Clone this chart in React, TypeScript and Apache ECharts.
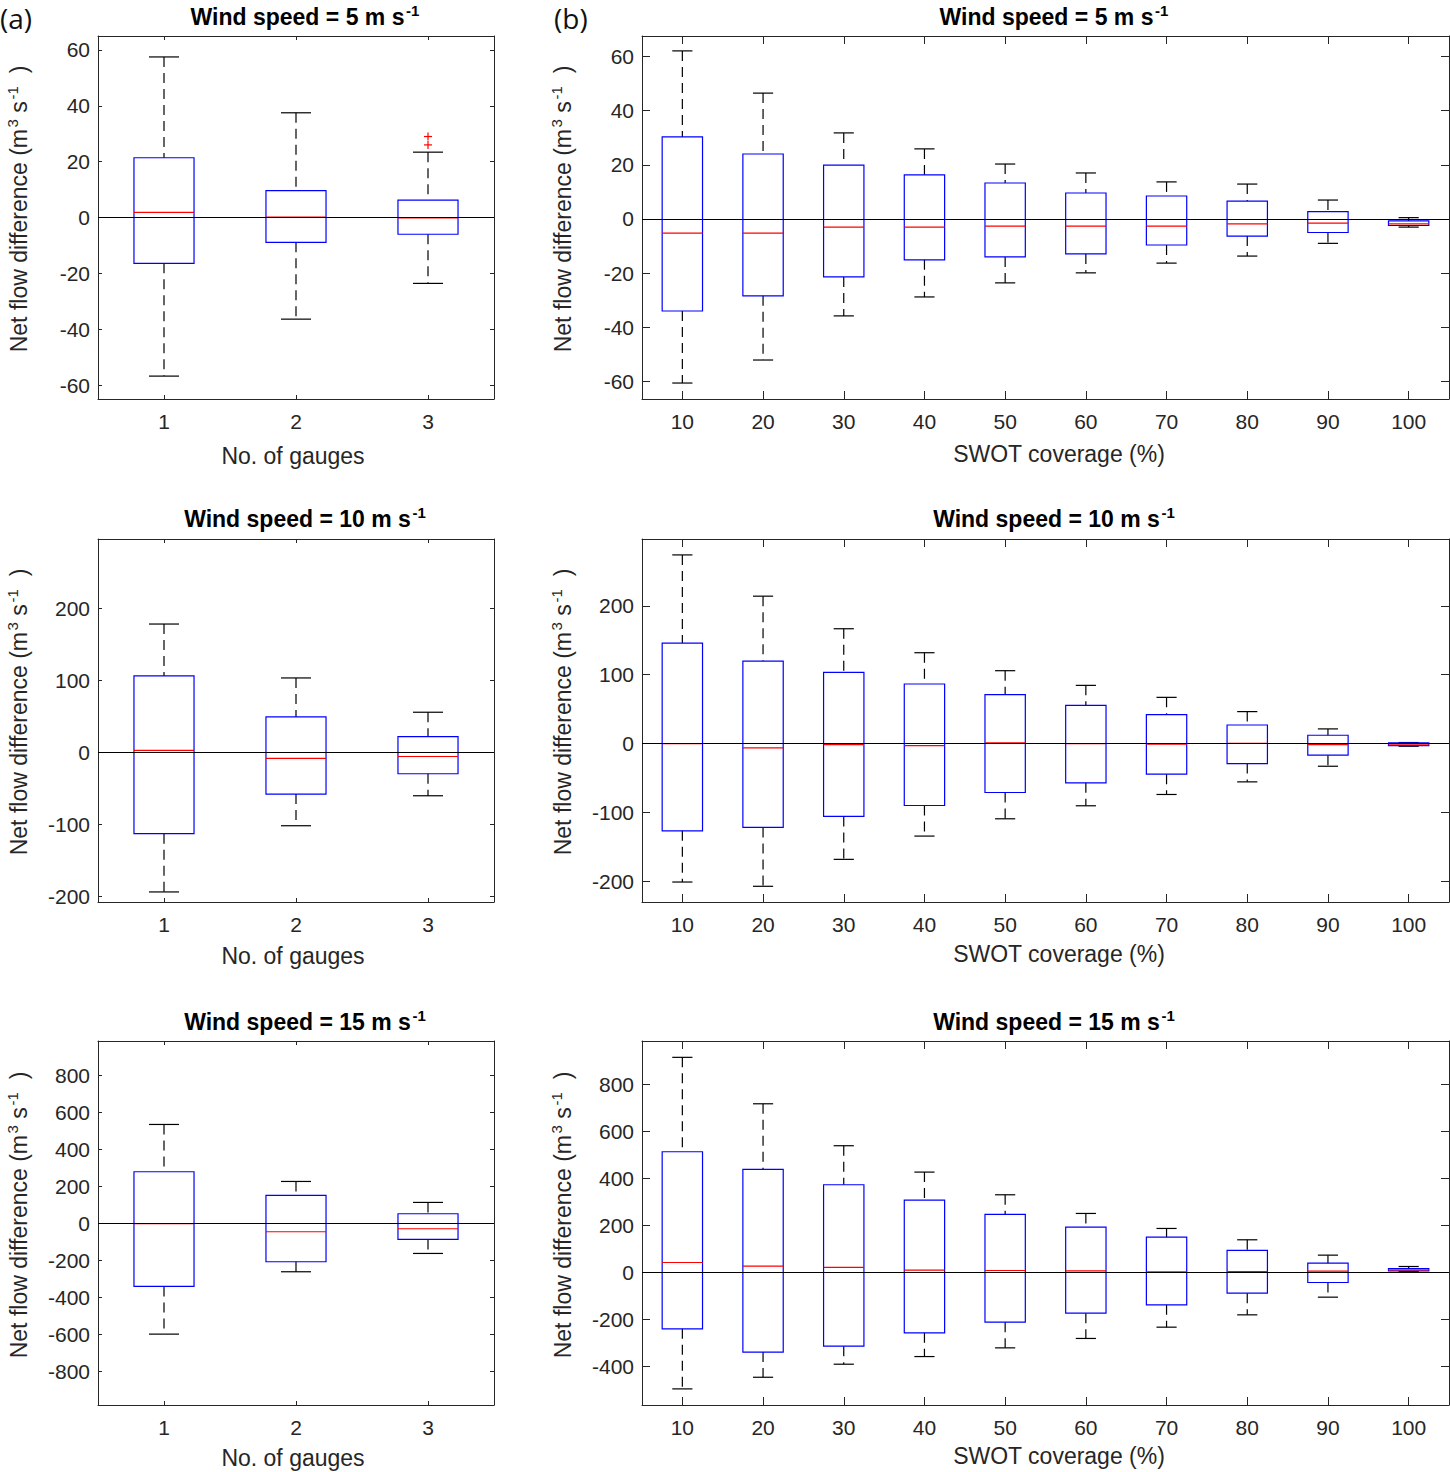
import React, { useEffect, useRef } from 'react';
import * as echarts from 'echarts';

// ---------- data ----------
const gaugeCats = ['1', '2', '3'];
const coverageCats = ['10', '20', '30', '40', '50', '60', '70', '80', '90', '100'];

// each box: [lowerWhisker, q1, median, q3, upperWhisker]
const gauges5 = [
  [-56.8, -16.4, 1.8, 21.4, 57.5],
  [-36.4, -8.9, 0.1, 9.6, 37.5],
  [-23.6, -6.0, -0.1, 6.2, 23.4],
];
const gauges5Outliers = [
  [2, 29.0],
  [2, 26.0],
];
const gauges10 = [
  [-194, -113, 2.8, 106.5, 178.7],
  [-101.9, -57.9, -8.3, 49.5, 103.7],
  [-60.2, -29.6, -5.6, 22.2, 56],
];
const gauges15 = [
  [-600, -342, -3.6, 277.5, 533],
  [-263, -209, -46.8, 149.5, 225],
  [-164, -88.3, -30.6, 50.5, 111.7],
];
const coverage5 = [
  [-60.6, -34.0, -5.2, 30.3, 62.1],
  [-52.1, -28.4, -5.2, 24.0, 46.5],
  [-35.8, -21.4, -3.0, 19.9, 31.8],
  [-28.8, -15.1, -3.0, 16.3, 25.9],
  [-23.6, -14.0, -2.6, 13.3, 20.3],
  [-19.9, -12.9, -2.6, 9.6, 17.0],
  [-16.3, -9.6, -2.6, 8.5, 13.7],
  [-13.7, -6.3, -1.8, 6.6, 12.9],
  [-9.0, -5.0, -1.5, 2.7, 7.0],
  [-3.0, -2.4, -1.8, -0.7, 0.5],
];
const coverage10 = [
  [-201, -126.6, 0, 145.9, 273.9],
  [-207.2, -121.7, -6.3, 119.8, 214],
  [-168.1, -105.8, -1.4, 103.4, 166.7],
  [-134.3, -89.9, -2.9, 86.5, 131.9],
  [-109.2, -71, 1, 71, 105.8],
  [-90.3, -57, 0, 55.6, 84.5],
  [-73.9, -44.4, -1, 42, 67.1],
  [-55.6, -29, 0.5, 27, 46.4],
  [-32.9, -16.9, -1.4, 12.1, 21.3],
  [-3.9, -2.9, -1.9, 1, 1.5],
];
const coverage15 = [
  [-496.5, -241, 41, 512, 913.5],
  [-447, -340, 25.5, 437, 716],
  [-391.5, -315, 19.9, 371.6, 537.6],
  [-359, -258, 8.5, 306, 425.5],
  [-322, -212.8, 7, 245.4, 329],
  [-282, -174.5, 5.7, 191.5, 249.6],
  [-234, -139, 1.4, 149, 185.8],
  [-181.6, -89.4, 2.8, 92.2, 137.6],
  [-106.4, -44, 4.3, 38.3, 72.3],
  [2.8, 5.7, 10, 15.6, 24],
];

const ticks5 = [-60, -40, -20, 0, 20, 40, 60];
const ticksA10 = [-200, -100, 0, 100, 200];
const ticksA15 = [-800, -600, -400, -200, 0, 200, 400, 600, 800];
const ticksB10 = [-200, -100, 0, 100, 200];
const ticksB15 = [-400, -200, 0, 200, 400, 600, 800];

const windSpeeds = ['5', '10', '15'];
const gaugeAxisName = 'No. of gauges';
const coverageAxisName = 'SWOT coverage (%)';

// ---------- layout ----------
const FONT = '"Liberation Sans", Arial, Helvetica, sans-serif';
const AX = '#262626';

const panels = [
  { cats: gaugeCats, boxes: gauges5, outliers: gauges5Outliers, yMin: -65, yMax: 65, ticks: ticks5, left: 98, top: 36, width: 396, height: 363, boxW: 0.455, tickLen: 4 },
  { cats: coverageCats, boxes: coverage5, outliers: [], yMin: -66.5, yMax: 67.6, ticks: ticks5, left: 642, top: 36, width: 807, height: 363, boxW: 0.5, tickLen: 8 },
  { cats: gaugeCats, boxes: gauges10, outliers: [], yMin: -208, yMax: 297, ticks: ticksA10, left: 98, top: 539, width: 396, height: 363, boxW: 0.455, tickLen: 4 },
  { cats: coverageCats, boxes: coverage10, outliers: [], yMin: -230, yMax: 297, ticks: ticksB10, left: 642, top: 539, width: 807, height: 363, boxW: 0.5, tickLen: 8 },
  { cats: gaugeCats, boxes: gauges15, outliers: [], yMin: -983, yMax: 984, ticks: ticksA15, left: 98, top: 1041, width: 396, height: 364, boxW: 0.455, tickLen: 4 },
  { cats: coverageCats, boxes: coverage15, outliers: [], yMin: -565, yMax: 983, ticks: ticksB15, left: 642, top: 1041, width: 807, height: 364, boxW: 0.5, tickLen: 8 },
];

function buildOption() {
  const grid: any[] = [];
  const xAxis: any[] = [];
  const yAxis: any[] = [];
  const series: any[] = [];
  const graphic: any[] = [];

  panels.forEach((p, i) => {
    grid.push({ left: p.left, top: p.top, width: p.width, height: p.height, containLabel: false, outerBoundsMode: 'none' });
    const tickBase = { show: true, inside: true, length: p.tickLen, lineStyle: { color: AX, width: 1 } };
    const lineBase = { show: true, onZero: false, lineStyle: { color: AX, width: 1 } };
    xAxis.push({
      gridIndex: i, type: 'category', data: p.cats, position: 'bottom', boundaryGap: true,
      axisLine: lineBase, axisTick: { ...tickBase, alignWithLabel: true },
      axisLabel: { fontSize: 21, color: AX, fontFamily: FONT, margin: 12 },
      splitLine: { show: false },
    });
    xAxis.push({
      gridIndex: i, type: 'category', data: p.cats, position: 'top', boundaryGap: true,
      axisLine: lineBase, axisTick: { ...tickBase, alignWithLabel: true },
      axisLabel: { show: false }, splitLine: { show: false },
    });
    yAxis.push({
      gridIndex: i, type: 'value', min: p.yMin, max: p.yMax, position: 'left',
      axisLine: lineBase, axisTick: { ...tickBase, customValues: p.ticks },
      axisLabel: { fontSize: 21, color: AX, fontFamily: FONT, margin: 8, customValues: p.ticks },
      splitLine: { show: false },
    });
    yAxis.push({
      gridIndex: i, type: 'value', min: p.yMin, max: p.yMax, position: 'right',
      axisLine: lineBase, axisTick: { ...tickBase, customValues: p.ticks },
      axisLabel: { show: false, customValues: p.ticks }, splitLine: { show: false },
    });

    // zero reference line
    series.push({
      type: 'line', xAxisIndex: 2 * i, yAxisIndex: 2 * i, data: [], z: 1, silent: true,
      markLine: {
        silent: true, symbol: ['none', 'none'], label: { show: false },
        lineStyle: { color: '#000000', type: 'solid', width: 1 },
        data: [{ yAxis: 0 }],
      },
    });

    const boxW = p.boxW;
    series.push({
      type: 'custom', xAxisIndex: 2 * i, yAxisIndex: 2 * i, z: 3, silent: true,
      data: p.boxes.map((b, j) => [j, ...b]),
      encode: { x: 0, y: [1, 2, 3, 4, 5] },
      renderItem: (params: any, api: any) => {
        const idx = api.value(0);
        const band = api.size([1, 0])[0];
        const hw = (band * boxW) / 2;
        const cx = api.coord([idx, 0])[0];
        const yLo = api.coord([idx, api.value(1)])[1];
        const yQ1 = api.coord([idx, api.value(2)])[1];
        const yMed = api.coord([idx, api.value(3)])[1];
        const yQ3 = api.coord([idx, api.value(4)])[1];
        const yHi = api.coord([idx, api.value(5)])[1];
        const dash = { stroke: '#000000', lineWidth: 1.2, lineDash: [10, 6] };
        const solid = { stroke: '#000000', lineWidth: 1.2 };
        return {
          type: 'group',
          children: [
            { type: 'line', shape: { x1: cx, y1: yHi, x2: cx, y2: yQ3 }, style: dash },
            { type: 'line', shape: { x1: cx, y1: yQ1, x2: cx, y2: yLo }, style: dash },
            { type: 'line', shape: { x1: cx - hw / 2, y1: yHi, x2: cx + hw / 2, y2: yHi }, style: solid },
            { type: 'line', shape: { x1: cx - hw / 2, y1: yLo, x2: cx + hw / 2, y2: yLo }, style: solid },
            { type: 'rect', shape: { x: cx - hw, y: yQ3, width: 2 * hw, height: yQ1 - yQ3 }, style: { fill: 'none', stroke: '#0000ff', lineWidth: 1.2 } },
            { type: 'line', shape: { x1: cx - hw, y1: yMed, x2: cx + hw, y2: yMed }, style: { stroke: '#ff0000', lineWidth: 1.2 } },
          ],
        };
      },
    });

    if (p.outliers.length) {
      series.push({
        type: 'custom', xAxisIndex: 2 * i, yAxisIndex: 2 * i, z: 4, silent: true,
        data: p.outliers,
        encode: { x: 0, y: 1 },
        renderItem: (params: any, api: any) => {
          const [x, y] = api.coord([api.value(0), api.value(1)]);
          const s = 4;
          const st = { stroke: '#ff0000', lineWidth: 1.2 };
          return {
            type: 'group',
            children: [
              { type: 'line', shape: { x1: x - s, y1: y, x2: x + s, y2: y }, style: st },
              { type: 'line', shape: { x1: x, y1: y - s, x2: x, y2: y + s }, style: st },
            ],
          };
        },
      });
    }
  });

  const supRich = {
    sp: { fontSize: 6, fontFamily: FONT },
    sup: { fontSize: 15, fontFamily: FONT, fontWeight: 'bold', verticalAlign: 'top', lineHeight: 15, fill: '#000' },
    supn: { fontSize: 15, fontFamily: FONT, verticalAlign: 'top', lineHeight: 15, fill: AX },
  };

  // titles
  const titleY = [17, 519, 1022];
  windSpeeds.forEach((w, r) => {
    [305, 1054].forEach((cx) => {
      graphic.push({
        type: 'text', x: cx, y: titleY[r], silent: true,
        style: {
          text: `Wind speed = ${w} m s{sp| }{sup|-1}`,
          rich: supRich,
          fontSize: 23, fontWeight: 'bold', fontFamily: FONT, fill: '#000', lineHeight: 28,
          align: 'center', verticalAlign: 'middle',
        },
      });
    });
  });

  // x axis names
  const xNameY = [456, 956, 1458];
  xNameY.forEach((y) => {
    graphic.push({ type: 'text', x: 293, y, silent: true, style: { text: gaugeAxisName, fontSize: 23, fontFamily: FONT, fill: AX, align: 'center', verticalAlign: 'middle' } });
    graphic.push({ type: 'text', x: 1059, y: y - 2, silent: true, style: { text: coverageAxisName, fontSize: 23, fontFamily: FONT, fill: AX, align: 'center', verticalAlign: 'middle' } });
  });

  // y axis names
  const yNameY = [209, 712, 1215];
  yNameY.forEach((y) => {
    [19, 563].forEach((x) => {
      graphic.push({
        type: 'text', x, y, rotation: Math.PI / 2, silent: true,
        style: {
          text: 'Net flow difference (m{sp| }{supn|3} s{sp| }{supn|-1}  )',
          rich: supRich,
          fontSize: 23, fontFamily: FONT, fill: AX, lineHeight: 28,
          align: 'center', verticalAlign: 'middle',
        },
      });
    });
  });

  // panel labels
  graphic.push({ type: 'text', x: 0, y: 18, silent: true, style: { text: '(a)', fontSize: 28, fontFamily: '"Open Sans", sans-serif', fill: '#111', align: 'left', verticalAlign: 'middle' } });
  graphic.push({ type: 'text', x: 554, y: 18, silent: true, style: { text: '(b)', fontSize: 28, fontFamily: '"Open Sans", sans-serif', fill: '#111', align: 'left', verticalAlign: 'middle' } });

  return {
    animation: false,
    backgroundColor: '#ffffff',
    grid, xAxis, yAxis, series, graphic,
  };
}

export default function App() {
  const ref = useRef<HTMLDivElement>(null);
  useEffect(() => {
    if (!ref.current) return;
    const chart = echarts.init(ref.current, undefined, { renderer: 'svg' });
    chart.setOption(buildOption() as any);
    return () => chart.dispose();
  }, []);
  return <div ref={ref} style={{ position: 'absolute', left: 0, top: 0, width: 1450, height: 1472, background: '#fff' }} />;
}
